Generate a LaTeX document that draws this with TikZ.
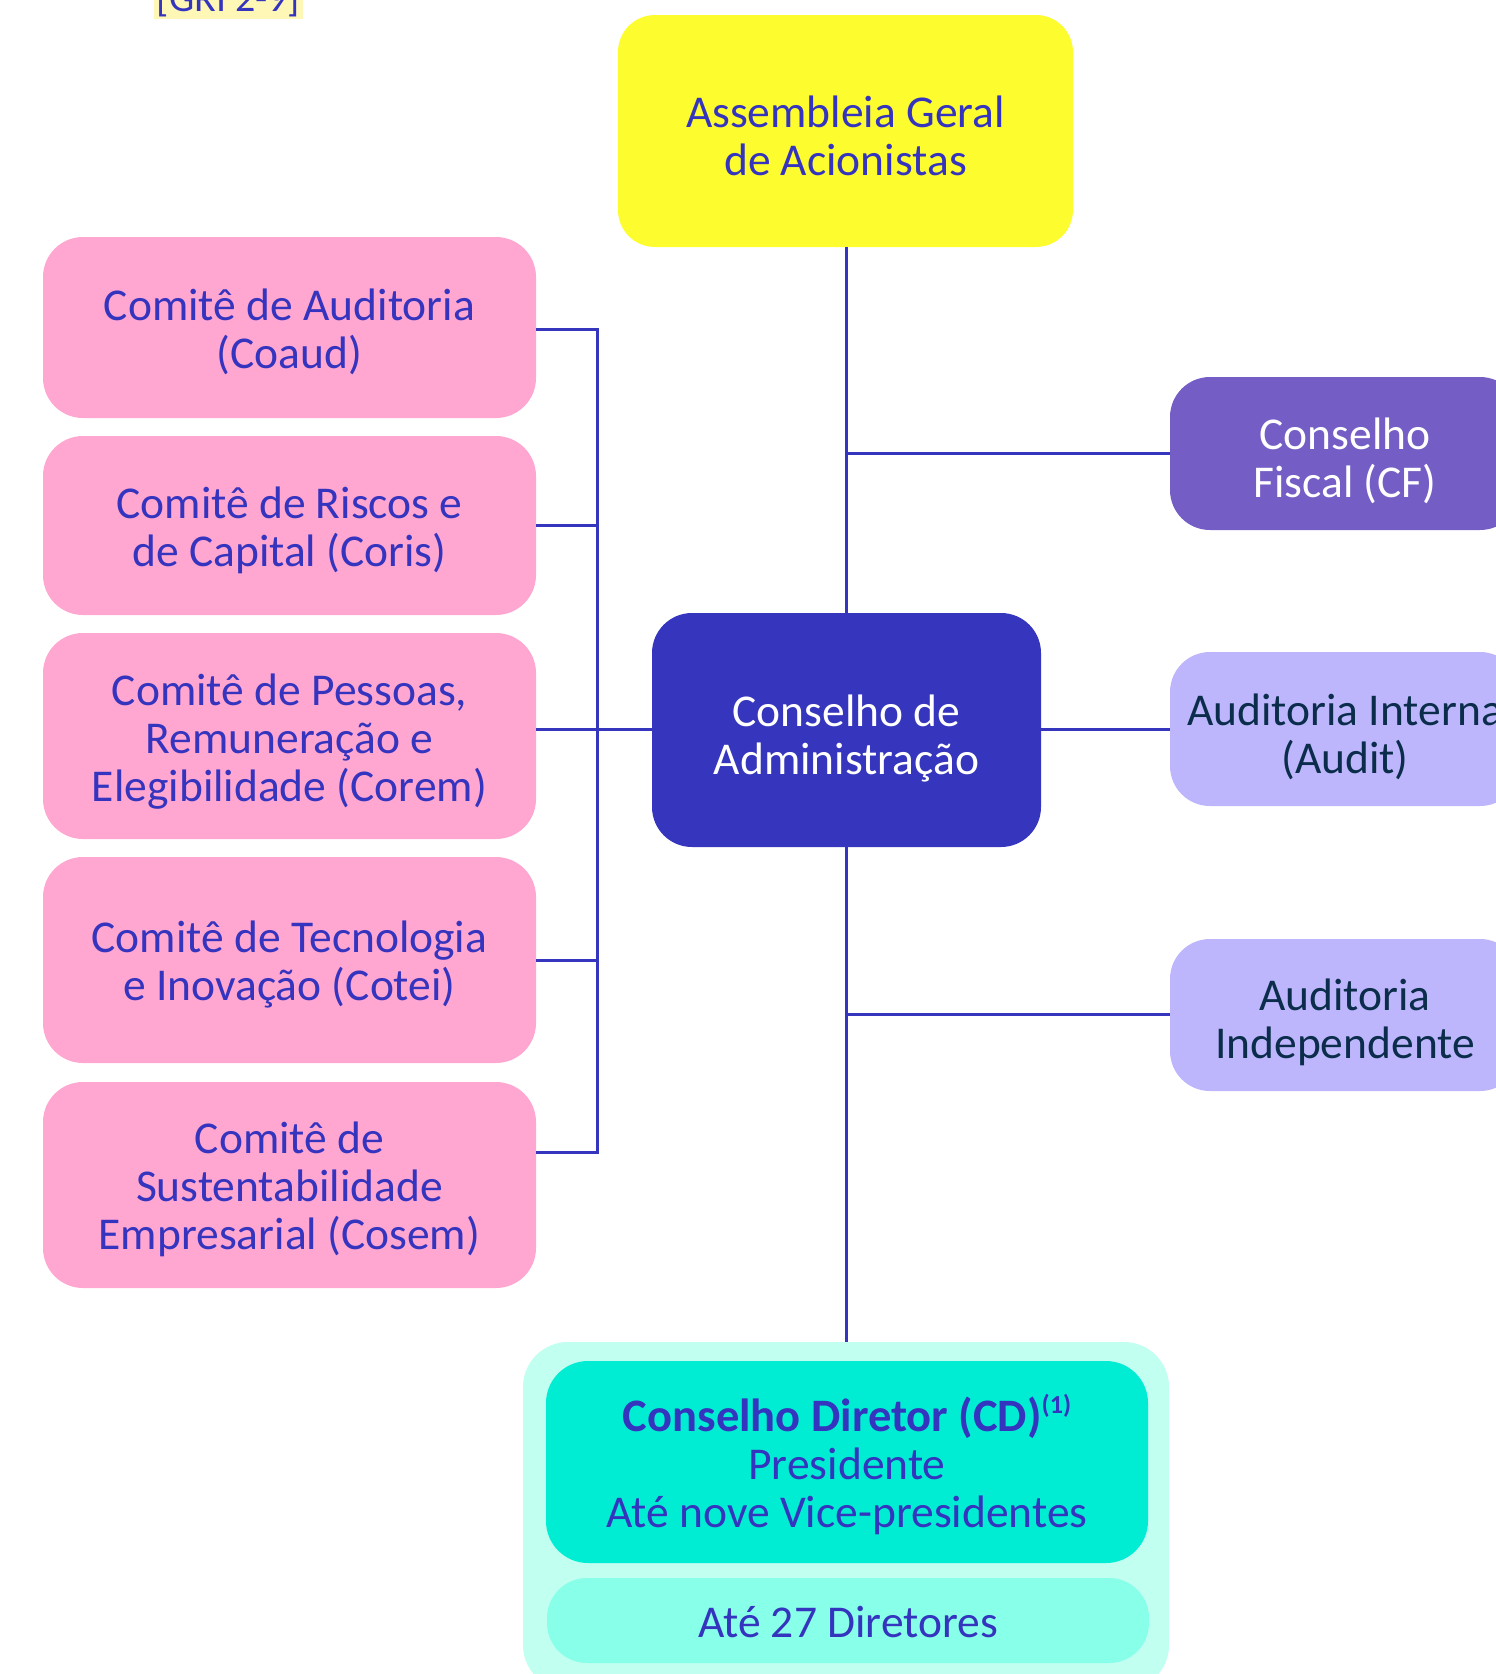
\documentclass[tikz,border=0pt]{standalone}
\usepackage{fontspec}
\setmainfont{Carlito}
\definecolor{lineblue}{HTML}{3535BD}
\definecolor{txtblue}{HTML}{3434BE}
\definecolor{navy}{HTML}{0B2D4B}
\definecolor{yel}{HTML}{FDFC2F}
\definecolor{pink}{HTML}{FFA6D1}
\definecolor{cfpurple}{HTML}{745EC6}
\definecolor{lav}{HTML}{BDB6FC}
\definecolor{mintout}{HTML}{C1FFF1}
\definecolor{teal}{HTML}{00EDD3}
\definecolor{mint}{HTML}{88FFE8}
\definecolor{grihl}{HTML}{FFF7B5}
\tikzset{
  box/.style={rectangle, rounded corners=40pt, inner sep=0pt},
  pinkbox/.style={box, fill=pink, minimum width=493pt},
  lavbox/.style={box, fill=lav, minimum width=350pt},
  txt/.style={align=center, inner sep=0pt, font=\fontsize{45.5}{48}\selectfont},
  conn/.style={draw=lineblue, line width=3pt}
}
\begin{document}
\begin{tikzpicture}[x=1pt,y=-1pt]
\useasboundingbox (0,0) rectangle (1496,1674);
\clip (0,0) rectangle (1496,1674);
% GRI label
\node[fill=grihl, text=txtblue, font=\fontsize{40}{44}\selectfont, inner xsep=3pt, inner ysep=2pt, anchor=south] (gri) at (228.5,19) {[GRI 2-9]};
% boxes
\node[box, rounded corners=37pt, fill=yel, minimum width=455pt, minimum height=232pt] (ag) at (845.5,131) {};
\node[pinkbox, minimum height=181pt] (p1) at (289.5,327.5) {};
\node[pinkbox, minimum height=179pt] (p2) at (289.5,525.5) {};
\node[pinkbox, minimum height=206pt] (p3) at (289.5,736) {};
\node[pinkbox, minimum height=206pt] (p4) at (289.5,960) {};
\node[pinkbox, minimum height=206pt] (p5) at (289.5,1185) {};
\node[box, fill=lineblue, minimum width=389pt, minimum height=234pt] (ca) at (846.5,730) {};
\node[box, fill=cfpurple, minimum width=350pt, minimum height=153pt] (cf) at (1345,453.5) {};
\node[lavbox, minimum height=154pt] (ai) at (1345,729) {};
\node[lavbox, minimum height=152pt] (aind) at (1345,1015) {};
\node[box, rounded corners=45pt, fill=mintout, minimum width=646pt, minimum height=348pt] (outer) at (846,1516) {};
\node[box, rounded corners=42pt, fill=teal, minimum width=602pt, minimum height=202pt] (cd) at (847,1462) {};
\node[box, rounded corners=40pt, fill=mint, minimum width=602pt, minimum height=85pt] (dir) at (848,1620.5) {};
% texts
\node[txt, text=txtblue] (tag) at ([yshift=-4.5pt]ag.center) {Assembleia Geral\\de Acionistas};
\node[txt, text=txtblue] (tp1) at ([yshift=-4.5pt]p1.center) {Comitê de Auditoria\\(Coaud)};
\node[txt, text=txtblue] (tp2) at ([yshift=-4.5pt]p2.center) {Comitê de Riscos e\\de Capital (Coris)};
\node[txt, text=txtblue] (tp3) at ([yshift=-6pt]p3.center) {Comitê de Pessoas,\\Remuneração e\\Elegibilidade (Corem)};
\node[txt, text=txtblue] (tp4) at ([yshift=-5pt]p4.center) {Comitê de Tecnologia\\e Inovação (Cotei)};
\node[txt, text=txtblue] (tp5) at ([yshift=-4.5pt]p5.center) {Comitê de\\Sustentabilidade\\Empresarial (Cosem)};
\node[txt, text=white] (tca) at ([yshift=-8.5pt]ca.center) {Conselho de\\Administração};
\node[txt, text=white] (tcf) at ([yshift=-7.5pt]cf.center) {Conselho\\Fiscal (CF)};
\node[txt, text=navy] (tai) at ([yshift=-7.5pt]ai.center) {Auditoria Interna\\(Audit)};
\node[txt, text=navy] (taind) at ([yshift=-7.5pt]aind.center) {Auditoria\\Independente};
\node[txt, text=txtblue] (tcd) at ([yshift=-2.5pt]cd.center) {{\fontsize{46.5}{48}\selectfont\textbf{Conselho Diretor (CD)}}\raisebox{0.38em}{\fontsize{26}{28}\selectfont\textbf{(1)}}\\Presidente\\Até nove Vice-presidentes};
\node[txt, text=txtblue] (tdir) at ([yshift=-1.5pt]dir.center) {Até 27 Diretores};
% coordinates
\coordinate (bx) at (597,0);
\coordinate (v) at (846,0);
\coordinate (c5) at (536,1152);
\coordinate (jcf) at (846,453);
\coordinate (jind) at (846,1014);
\coordinate (jai) at (846,729);
% connectors
\draw[conn] (ag.south -| v) -- (ca.north -| v);
\draw[conn] (ca.south -| v) -- (outer.north -| v);
\draw[conn] (jcf) -- (cf.west |- jcf);
\draw[conn] (ca.east |- jai) -- (ai.west |- jai);
\draw[conn] (jind) -- (aind.west |- jind);
\draw[conn] (ca.west |- jai) -- (p3.east |- jai);
\draw[conn] (p1.east |- 0,329) -| (bx |- c5) -- (c5);
\draw[conn] (p2.east) -- (bx |- p2.east);
\draw[conn] (p4.east) -- (bx |- p4.east);
\end{tikzpicture}
\end{document}
